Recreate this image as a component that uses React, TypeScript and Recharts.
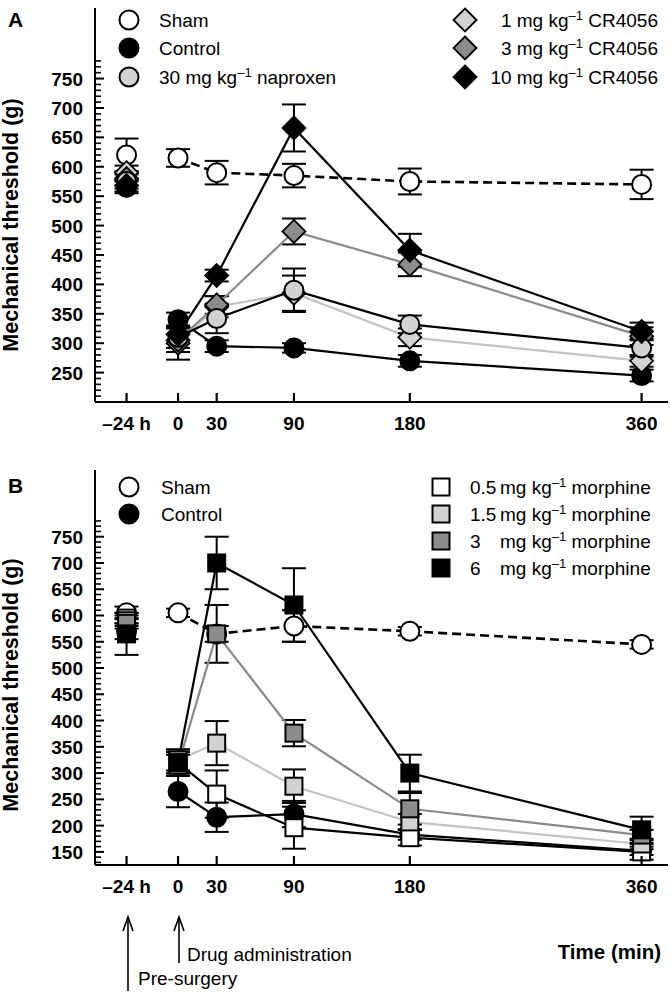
import React from 'react';
import { LineChart, Line, XAxis, YAxis, ErrorBar } from 'recharts';

// time points (min); the pre-surgery baseline (-24 h) sits in the -40 slot of the axis
const timeSlots = [-40, 0, 30, 90, 180, 360];
const timeLabels = ['–24 h', '0', '30', '90', '180', '360'];

// panel A: CR4056 and naproxen
const aSham = [620, 615, 590, 585, 575, 570];
const aShamErr = [28, 15, 20, 20, 22, 25];
const aControl = [565, 340, 295, 292, 270, 245];
const aControlErr = [10, 12, 10, 8, 10, 10];
const aNaproxen = [575, 310, 342, 390, 332, 292];
const aNaproxenErr = [12, 18, 25, 37, 15, 15];
const aCr1 = [590, 300, 362, 385, 310, 270];
const aCr1Err = [12, 28, 18, 30, 15, 10];
const aCr3 = [580, 305, 365, 490, 434, 312];
const aCr3Err = [12, 20, 15, 22, 20, 15];
const aCr10 = [568, 315, 415, 666, 458, 320];
const aCr10Err = [10, 15, 10, 40, 28, 15];

// panel B: morphine
const bSham = [605, 605, 565, 580, 570, 545];
const bShamErr = [12, 8, 15, 30, 8, 8];
const bControl = [570, 265, 216, 222, 183, 152];
const bControlErr = [15, 30, 28, 25, 10, 8];
const bMor05 = [595, 320, 260, 196, 177, 150];
const bMor05Err = [10, 20, 45, 40, 15, 15];
const bMor15 = [590, 325, 357, 275, 207, 165];
const bMor15Err = [10, 20, 42, 32, 15, 10];
const bMor3 = [585, 315, 565, 376, 232, 182];
const bMor3Err = [10, 20, 55, 25, 30, 10];
const bMor6 = [565, 320, 700, 620, 300, 192];
const bMor6Err = [40, 25, 50, 70, 35, 25];

const aYLabels = [250, 300, 350, 400, 450, 500, 550, 600, 650, 700, 750];
const bYLabels = [150, 200, 250, 300, 350, 400, 450, 500, 550, 600, 650, 700, 750];

const FONT = '"Liberation Sans", Arial, Helvetica, sans-serif';
const LIGHT = '#d2d2d2';
const MID = '#8c8c8c';

type Shape = 'circle' | 'diamond' | 'square';

const Marker = ({ shape, cx, cy, fill }: { shape: Shape; cx: number; cy: number; fill: string }) => {
  if (shape === 'circle') return <circle cx={cx} cy={cy} r={9.5} fill={fill} stroke="#000" strokeWidth={2} />;
  if (shape === 'diamond') {
    const d = 11.5;
    return (
      <polygon
        points={`${cx},${cy - d} ${cx + d},${cy} ${cx},${cy + d} ${cx - d},${cy}`}
        fill={fill}
        stroke="#000"
        strokeWidth={1.8}
      />
    );
  }
  return <rect x={cx - 8.5} y={cy - 8.5} width={17} height={17} fill={fill} stroke="#000" strokeWidth={2} />;
};

function buildRows(series: Record<string, number[]>) {
  const rows: any[] = timeSlots.map((t, i) => {
    const r: any = { t };
    Object.keys(series).forEach(k => (r[k] = series[k][i]));
    return r;
  });
  // empty row so the baseline is not joined to the post-surgery curve
  rows.splice(1, 0, { t: -20 });
  return rows;
}

interface SeriesDef {
  key: string;
  shape: Shape;
  fill: string;
  line: string;
  dashed?: boolean;
}

const rowsA = buildRows({
  sham: aSham, shamErr: aShamErr, control: aControl, controlErr: aControlErr,
  naproxen: aNaproxen, naproxenErr: aNaproxenErr, cr1: aCr1, cr1Err: aCr1Err,
  cr3: aCr3, cr3Err: aCr3Err, cr10: aCr10, cr10Err: aCr10Err,
});
const rowsB = buildRows({
  sham: bSham, shamErr: bShamErr, control: bControl, controlErr: bControlErr,
  m05: bMor05, m05Err: bMor05Err, m15: bMor15, m15Err: bMor15Err,
  m3: bMor3, m3Err: bMor3Err, m6: bMor6, m6Err: bMor6Err,
});

// drawing order: naproxen after the light diamonds so its circle covers them
const seriesA: SeriesDef[] = [
  { key: 'sham', shape: 'circle', fill: '#fff', line: '#000', dashed: true },
  { key: 'control', shape: 'circle', fill: '#000', line: '#000' },
  { key: 'cr1', shape: 'diamond', fill: LIGHT, line: '#c4c4c4' },
  { key: 'cr3', shape: 'diamond', fill: MID, line: '#8a8a8a' },
  { key: 'naproxen', shape: 'circle', fill: LIGHT, line: '#000' },
  { key: 'cr10', shape: 'diamond', fill: '#000', line: '#000' },
];
const seriesB: SeriesDef[] = [
  { key: 'sham', shape: 'circle', fill: '#fff', line: '#000', dashed: true },
  { key: 'control', shape: 'circle', fill: '#000', line: '#000' },
  { key: 'm05', shape: 'square', fill: '#fff', line: '#000' },
  { key: 'm15', shape: 'square', fill: LIGHT, line: '#c4c4c4' },
  { key: 'm3', shape: 'square', fill: MID, line: '#8a8a8a' },
  { key: 'm6', shape: 'square', fill: '#000', line: '#000' },
];

const XTick = (props: any) => {
  const { x, y, payload } = props;
  const label = timeLabels[timeSlots.indexOf(payload.value)];
  return (
    <g>
      <path d={`M${x},${y}V${y - 9}`} stroke="#000" strokeWidth={2.2} fill="none" />
      <text x={x} y={y + 28} textAnchor="middle" fontFamily={FONT} fontWeight="bold" fontSize={19} fill="#000">
        {label}
      </text>
    </g>
  );
};

// major ticks carry a label, minor ticks every 10 g are shorter
const makeYTick = (labels: number[]) => (props: any) => {
  const { x, y, payload } = props;
  const major = labels.includes(payload.value);
  return (
    <g>
      <path d={`M${x},${y}H${x + (major ? 9 : 6)}`} stroke="#000" strokeWidth={major ? 2 : 1.6} fill="none" />
      {major && (
        <text x={x - 12} y={y + 7} textAnchor="end" fontFamily={FONT} fontWeight="bold" fontSize={19} fill="#000">
          {payload.value}
        </text>
      )}
    </g>
  );
};

function minorTicks(from: number, to: number) {
  const out: number[] = [];
  for (let v = from; v <= to; v += 10) out.push(v);
  return out;
}

const Panel = ({ rows, series, domain, labels, tickFrom, top, height, marginTop, axisHeight }: any) => (
  <div style={{ position: 'absolute', left: 0, top, width: 670, height }}>
    <LineChart width={670} height={height} data={rows} margin={{ top: marginTop, right: 2, bottom: 0, left: 0 }}>
      <XAxis
        dataKey="t"
        type="number"
        domain={[-64.5, 380.5]}
        ticks={timeSlots}
        interval={0}
        allowDataOverflow
        tick={XTick}
        tickLine={false}
        tickSize={0}
        tickMargin={0}
        height={axisHeight}
        axisLine={{ stroke: '#000', strokeWidth: 2 }}
      />
      <YAxis
        type="number"
        domain={domain}
        ticks={minorTicks(tickFrom, 780)}
        interval={0}
        allowDataOverflow
        tick={makeYTick(labels)}
        tickLine={false}
        tickSize={0}
        tickMargin={0}
        width={95}
        axisLine={{ stroke: '#000', strokeWidth: 2 }}
      />
      {series.map((s: SeriesDef) => (
        <Line
          key={s.key}
          dataKey={s.key}
          type="linear"
          stroke={s.line}
          strokeWidth={s.dashed ? 2.6 : 2.2}
          strokeDasharray={s.dashed ? '9 5' : undefined}
          connectNulls={false}
          isAnimationActive={false}
          activeDot={false}
          dot={(p: any) =>
            p.cy == null || p.value == null ? (
              <g key={`${s.key}-${p.index}`} />
            ) : (
              <Marker key={`${s.key}-${p.index}`} shape={s.shape} fill={s.fill} cx={p.cx} cy={p.cy} />
            )
          }
        >
          <ErrorBar dataKey={`${s.key}Err`} direction="y" width={12} strokeWidth={2} stroke="#000" />
        </Line>
      ))}
    </LineChart>
  </div>
);

const Sup = ({ pre, post }: { pre: string; post: string }) => (
  <>
    <tspan>{pre}</tspan>
    <tspan dy={-7} fontSize={13}>–1</tspan>
    <tspan dy={7}>{post}</tspan>
  </>
);

const txt = { fontFamily: FONT, fontSize: 19, fill: '#000' };

const Arrow = ({ x, top, bottom }: { x: number; top: number; bottom: number }) => (
  <g stroke="#000" strokeWidth={1.6} fill="none">
    <line x1={x} x2={x} y1={bottom} y2={top} />
    <polyline points={`${x - 5},${top + 14} ${x},${top} ${x + 5},${top + 14}`} />
  </g>
);

export default function App() {
  return (
    <div style={{ position: 'absolute', left: 0, top: 0, width: 670, height: 994, background: '#fff', fontFamily: FONT }}>
      <Panel rows={rowsA} series={seriesA} domain={[200, 870]} labels={aYLabels} tickFrom={210}
        top={0} height={440} marginTop={8} axisHeight={38} />
      <Panel rows={rowsB} series={seriesB} domain={[125, 877]} labels={bYLabels} tickFrom={130}
        top={460} height={445} marginTop={10} axisHeight={40} />
      <svg width={670} height={994} style={{ position: 'absolute', left: 0, top: 0, pointerEvents: 'none' }}>
        {/* panel letters */}
        <text x={8} y={27} {...txt} fontSize={21} fontWeight="bold">A</text>
        <text x={8} y={493} {...txt} fontSize={21} fontWeight="bold">B</text>

        {/* axis titles */}
        <text transform="translate(18,225) rotate(-90)" textAnchor="middle" {...txt} fontSize={21.5} fontWeight="bold">
          Mechanical threshold (g)
        </text>
        <text transform="translate(18,685) rotate(-90)" textAnchor="middle" {...txt} fontSize={21.5} fontWeight="bold">
          Mechanical threshold (g)
        </text>

        {/* legend A */}
        <Marker shape="circle" fill="#fff" cx={129} cy={20} />
        <Marker shape="circle" fill="#000" cx={129} cy={48} />
        <Marker shape="circle" fill={LIGHT} cx={129} cy={77} />
        <text x={159} y={27} {...txt}>Sham</text>
        <text x={159} y={55} {...txt}>Control</text>
        <text x={159} y={84} {...txt}><Sup pre="30 mg kg" post=" naproxen" /></text>
        <Marker shape="diamond" fill={LIGHT} cx={465} cy={20} />
        <Marker shape="diamond" fill={MID} cx={465} cy={48} />
        <Marker shape="diamond" fill="#000" cx={465} cy={77} />
        <text x={658} y={27} textAnchor="end" {...txt}><Sup pre="1 mg kg" post=" CR4056" /></text>
        <text x={658} y={55} textAnchor="end" {...txt}><Sup pre="3 mg kg" post=" CR4056" /></text>
        <text x={658} y={84} textAnchor="end" {...txt}><Sup pre="10 mg kg" post=" CR4056" /></text>

        {/* legend B */}
        <Marker shape="circle" fill="#fff" cx={129} cy={487} />
        <Marker shape="circle" fill="#000" cx={129} cy={514} />
        <text x={161} y={494} {...txt}>Sham</text>
        <text x={161} y={521} {...txt}>Control</text>
        <Marker shape="square" fill="#fff" cx={441} cy={487} />
        <Marker shape="square" fill={LIGHT} cx={441} cy={514} />
        <Marker shape="square" fill={MID} cx={441} cy={541} />
        <Marker shape="square" fill="#000" cx={441} cy={568} />
        <text x={470} y={494} {...txt}>0.5</text>
        <text x={470} y={521} {...txt}>1.5</text>
        <text x={470} y={548} {...txt}>3</text>
        <text x={470} y={575} {...txt}>6</text>
        <text x={500} y={494} {...txt}><Sup pre="mg kg" post=" morphine" /></text>
        <text x={500} y={521} {...txt}><Sup pre="mg kg" post=" morphine" /></text>
        <text x={500} y={548} {...txt}><Sup pre="mg kg" post=" morphine" /></text>
        <text x={500} y={575} {...txt}><Sup pre="mg kg" post=" morphine" /></text>

        {/* bottom annotations */}
        <Arrow x={128} top={917} bottom={991} />
        <Arrow x={179} top={917} bottom={963} />
        <text x={187} y={961} {...txt}>Drug administration</text>
        <text x={138} y={985} {...txt}>Pre-surgery</text>
        <text x={661} y={959} textAnchor="end" {...txt} fontSize={20.5} fontWeight="bold">Time (min)</text>
      </svg>
    </div>
  );
}
